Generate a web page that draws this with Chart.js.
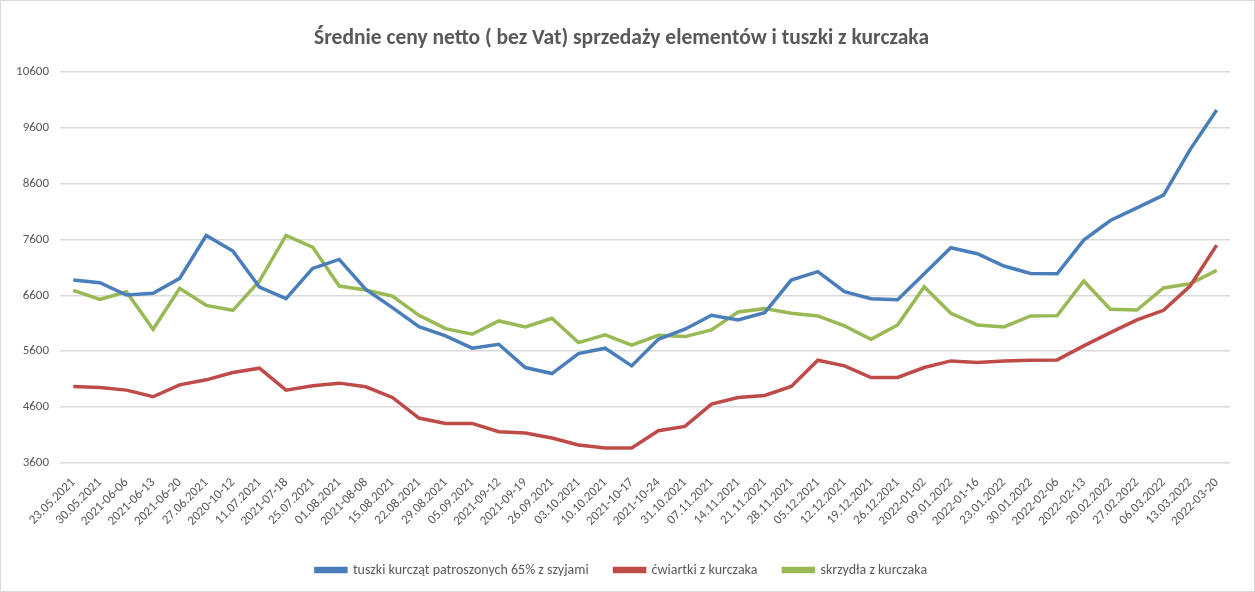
<!DOCTYPE html>
<html><head><meta charset="utf-8">
<script src="https://cdn.jsdelivr.net/npm/chart.js@4.4.1/dist/chart.umd.min.js"></script>
<style>
html,body{margin:0;padding:0;background:#fff;}
#wrap{position:absolute;left:0;top:0;width:1253px;height:590px;border:1px solid #d9d9d9;}
canvas{display:block;}
</style></head><body>
<div id="wrap"><canvas id="c" width="1253" height="590"></canvas></div>
<script>
const categories = ["23.05.2021","30.05.2021","2021-06-06","2021-06-13","2021-06-20","27.06.2021","2020-10-12","11.07.2021","2021-07-18","25.07.2021","01.08.2021","2021-08-08","15.08.2021","22.08.2021","29.08.2021","05.09.2021","2021-09-12","2021-09-19","26.09.2021","03.10.2021","10.10.2021","2021-10-17","2021-10-24","31.10.2021","07.11.2021","14.11.2021","21.11.2021","28.11.2021","05.12.2021","12.12.2021","19.12.2021","26.12.2021","2022-01-02","09.01.2022","2022-01-16","23.01.2022","30.01.2022","2022-02-06","2022-02-13","20.02.2022","27.02.2022","06.03.2022","13.03.2022","2022-03-20"];
const tuszki = [6874,6826,6606,6636,6904,7671,7392,6749,6540,7082,7243,6707,6380,6040,5874,5654,5725,5308,5201,5558,5654,5338,5814,5994,6243,6160,6290,6874,7023,6665,6540,6523,6987,7451,7344,7124,6993,6987,7588,7939,8165,8392,9208,9917];
const cwiartki = [4969,4951,4904,4785,4999,5088,5219,5296,4904,4981,5029,4963,4773,4404,4308,4308,4160,4136,4046,3921,3868,3868,4177,4255,4654,4773,4808,4969,5439,5338,5130,5130,5308,5427,5398,5427,5439,5445,5695,5933,6160,6332,6767,7499];
const skrzydla = [6689,6529,6665,5993,6725,6421,6332,6856,7671,7463,6767,6695,6588,6243,6005,5904,6142,6035,6189,5755,5892,5707,5886,5862,5981,6302,6362,6279,6231,6052,5814,6070,6755,6279,6070,6035,6231,6237,6856,6350,6338,6731,6808,7046];
const seriesNames = ["tuszki kurcząt patroszonych 65% z szyjami","ćwiartki z kurczaka","skrzydła z kurczaka"];
const yTicks = {min:3600,max:10600,step:1000};
const title = "Średnie ceny netto ( bez Vat) sprzedaży elementów i tuszki z kurczaka";

const FONT = "Carlito, Lato, 'Open Sans', sans-serif";
const colors = ["#4A7EBB","#BE4B48","#98B954"];
const ds = [tuszki,cwiartki,skrzydla].map((d,i)=>({
  label: seriesNames[i], data: d, borderColor: colors[i], backgroundColor: colors[i],
  borderWidth: 3.5, pointRadius: 0, tension: 0, fill:false
}));
new Chart(document.getElementById('c'), {
  type:'line',
  data:{labels:categories, datasets:ds},
  options:{
    responsive:false, animation:false,
    layout:{padding:{left:12,right:24,top:8,bottom:4}},
    plugins:{
      title:{display:true,text:title,color:'#595959',font:{family:FONT,size:21.5,weight:'bold'},padding:{top:17,bottom:20}},
      legend:{position:'bottom',labels:{boxWidth:30,boxHeight:3,color:'#595959',font:{family:FONT,size:14},padding:26}},
      tooltip:{enabled:false}
    },
    scales:{
      x:{offset:true,grid:{display:false,drawTicks:false},border:{display:false},
         ticks:{color:'#595959',font:{family:FONT,size:13},maxRotation:45,minRotation:45,autoSkip:false,padding:12},
         afterFit:(s)=>{s.height = 74;}},
      y:{min:yTicks.min,max:yTicks.max,
         afterFit:(s)=>{s.width = 47;},
         grid:{color:'#d9d9d9',lineWidth:1.5,drawTicks:false},border:{display:false},
         ticks:{stepSize:yTicks.step,color:'#595959',font:{family:FONT,size:13},padding:11,callback:(v)=>String(v)}}
    }
  }
});
</script></body></html>
